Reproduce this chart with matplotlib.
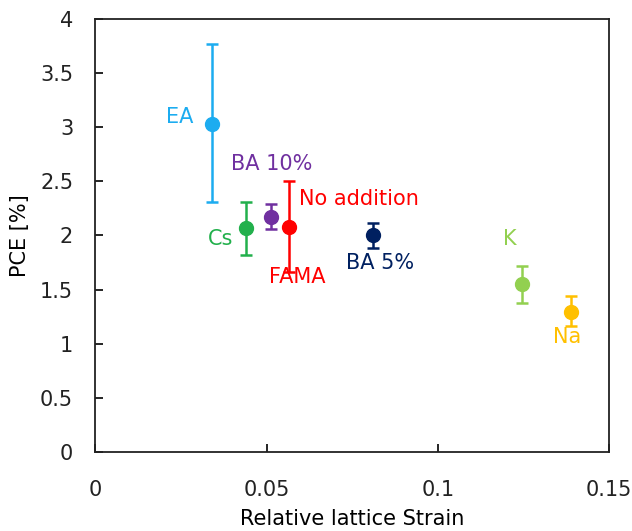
import matplotlib.pyplot as plt

plt.rcParams['font.family'] = ['DejaVu Sans']
plt.rcParams['text.color'] = '#222222'
plt.rcParams['xtick.labelcolor'] = '#222222'
plt.rcParams['ytick.labelcolor'] = '#222222'

# data
labels = ["EA", "Cs", "BA 10%", "No addition", "BA 5%", "K", "Na"]
strain = [0.034, 0.0441, 0.0513, 0.0566, 0.0810, 0.1245, 0.1388]
pce = [3.03, 2.07, 2.17, 2.08, 2.00, 1.55, 1.29]
err_low = [0.72, 0.25, 0.11, 0.42, 0.12, 0.17, 0.13]
err_high = [0.74, 0.24, 0.12, 0.42, 0.12, 0.17, 0.15]
colors = ["#1CACF0", "#22B04C", "#7030A0", "#FF0000", "#002060", "#92D050", "#FFC000"]

# label offsets in pixels (extra "FAMA" label sits under the red point)
offsets = {"EA": (-32, 7), "Cs": (-26, -11), "BA 10%": (1, 53),
           "No addition": (70, 28), "BA 5%": (7, -28), "K": (-12, 45), "Na": (-4, -25)}

fig = plt.figure(figsize=(6.32, 5.31), dpi=100)
ax = fig.add_axes([0.151, 0.149, 0.813, 0.815])

fs = 15
for i, name in enumerate(labels):
    c = colors[i]
    ax.errorbar(strain[i], pce[i], yerr=[[err_low[i]], [err_high[i]]], fmt='o',
                color=c, ecolor=c, markersize=10, elinewidth=1.8, capsize=4,
                capthick=1.8, zorder=3)
    ax.annotate(name, (strain[i], pce[i]), xytext=offsets[name],
                textcoords='offset pixels', ha='center', va='center',
                color=c, fontsize=fs)
    if name == "No addition":
        ax.annotate("FAMA", (strain[i], pce[i]), xytext=(8, -50),
                    textcoords='offset pixels', ha='center', va='center',
                    color=c, fontsize=fs, zorder=4)

ax.set_xlim(0, 0.15)
ax.set_ylim(0, 4)
ax.set_xticks([0, 0.05, 0.1, 0.15])
ax.set_xticklabels(["0", "0.05", "0.1", "0.15"])
ax.set_yticks([0, 0.5, 1, 1.5, 2, 2.5, 3, 3.5, 4])
ax.set_yticklabels(["0", "0.5", "1", "1.5", "2", "2.5", "3", "3.5", "4"])
ax.tick_params(direction='in', length=6, width=1.2, labelsize=fs)
ax.tick_params(axis='y', pad=16)
ax.tick_params(axis='x', pad=20)
for s in ax.spines.values():
    s.set_linewidth(1.3)
    s.set_color('#222222')
ax.set_xlabel("Relative lattice Strain", fontsize=fs, labelpad=7)
ax.set_ylabel("PCE [%]", fontsize=fs, labelpad=7)

plt.savefig("out.png", dpi=100)
